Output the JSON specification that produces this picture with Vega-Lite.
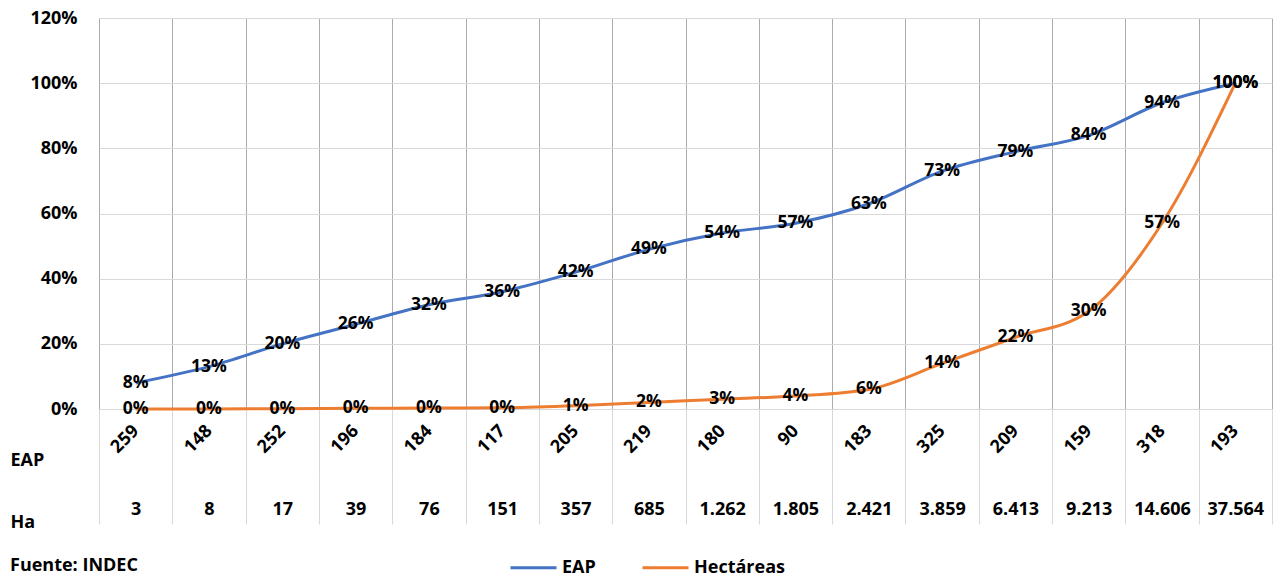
{
  "$schema": "https://vega.github.io/schema/vega-lite/v6.json",
  "autosize": {"type": "none"},
  "width": 1173,
  "height": 391,
  "padding": {"left": 99, "top": 18, "right": 10, "bottom": 169},
  "background": "white",
  "config": {
    "font": "Open Sans",
    "view": {"stroke": null},
    "axis": {
      "labelFont": "Open Sans", "labelFontWeight": "bold", "labelFontSize": 18, "labelColor": "#000",
      "titleFont": "Open Sans", "titleFontWeight": "bold", "titleFontSize": 18, "titleColor": "#000"
    }
  },
  "title": {
    "text": "Fuente: INDEC", "orient": "bottom", "anchor": "start", "frame": "group",
    "dx": -89, "dy": -33, "offset": 13, "font": "Open Sans", "fontSize": 18, "fontWeight": "bold", "color": "#000"
  },
  "data": {
    "values": [
      {"EAP": "259", "Ha": "3", "serie": "EAP", "value": 0.08},
      {"EAP": "148", "Ha": "8", "serie": "EAP", "value": 0.13},
      {"EAP": "252", "Ha": "17", "serie": "EAP", "value": 0.20},
      {"EAP": "196", "Ha": "39", "serie": "EAP", "value": 0.26},
      {"EAP": "184", "Ha": "76", "serie": "EAP", "value": 0.32},
      {"EAP": "117", "Ha": "151", "serie": "EAP", "value": 0.36},
      {"EAP": "205", "Ha": "357", "serie": "EAP", "value": 0.42},
      {"EAP": "219", "Ha": "685", "serie": "EAP", "value": 0.49},
      {"EAP": "180", "Ha": "1.262", "serie": "EAP", "value": 0.54},
      {"EAP": "90", "Ha": "1.805", "serie": "EAP", "value": 0.57},
      {"EAP": "183", "Ha": "2.421", "serie": "EAP", "value": 0.63},
      {"EAP": "325", "Ha": "3.859", "serie": "EAP", "value": 0.73},
      {"EAP": "209", "Ha": "6.413", "serie": "EAP", "value": 0.79},
      {"EAP": "159", "Ha": "9.213", "serie": "EAP", "value": 0.84},
      {"EAP": "318", "Ha": "14.606", "serie": "EAP", "value": 0.94},
      {"EAP": "193", "Ha": "37.564", "serie": "EAP", "value": 1.00},
      {"EAP": "259", "Ha": "3", "serie": "Hectáreas", "value": 0.0},
      {"EAP": "148", "Ha": "8", "serie": "Hectáreas", "value": 0.0},
      {"EAP": "252", "Ha": "17", "serie": "Hectáreas", "value": 0.001},
      {"EAP": "196", "Ha": "39", "serie": "Hectáreas", "value": 0.002},
      {"EAP": "184", "Ha": "76", "serie": "Hectáreas", "value": 0.003},
      {"EAP": "117", "Ha": "151", "serie": "Hectáreas", "value": 0.004},
      {"EAP": "205", "Ha": "357", "serie": "Hectáreas", "value": 0.01},
      {"EAP": "219", "Ha": "685", "serie": "Hectáreas", "value": 0.02},
      {"EAP": "180", "Ha": "1.262", "serie": "Hectáreas", "value": 0.03},
      {"EAP": "90", "Ha": "1.805", "serie": "Hectáreas", "value": 0.04},
      {"EAP": "183", "Ha": "2.421", "serie": "Hectáreas", "value": 0.06},
      {"EAP": "325", "Ha": "3.859", "serie": "Hectáreas", "value": 0.14},
      {"EAP": "209", "Ha": "6.413", "serie": "Hectáreas", "value": 0.22},
      {"EAP": "159", "Ha": "9.213", "serie": "Hectáreas", "value": 0.30},
      {"EAP": "318", "Ha": "14.606", "serie": "Hectáreas", "value": 0.57},
      {"EAP": "193", "Ha": "37.564", "serie": "Hectáreas", "value": 1.00}
    ]
  },
  "layer": [
    {
      "encoding": {
        "x": {
          "field": "EAP", "type": "ordinal", "sort": null,
          "scale": {"type": "band", "paddingInner": 0, "paddingOuter": 0},
          "axis": {
            "orient": "bottom",
            "title": "EAP", "titleAngle": 0, "titleX": -89, "titleY": 51, "titleAlign": "left", "titleBaseline": "middle",
            "labelAngle": -45, "labelAlign": "right", "labelBaseline": "middle", "labelPadding": -46,
            "tickSize": 65, "tickColor": "#D9D9D9", "tickBand": "extent",
            "grid": true, "gridColor": "#ABABAB", "domain": false, "labelOverlap": false
          }
        },
        "y": {
          "field": "value", "type": "quantitative",
          "scale": {"domain": [0, 1.2], "nice": false},
          "axis": {
            "values": [0, 0.2, 0.4, 0.6, 0.8, 1.0, 1.2], "format": ".0%", "grid": true, "gridColor": "#D9D9D9",
            "domain": false, "ticks": false, "labelPadding": 22, "title": null
          }
        }
      },
      "layer": [
        {
          "mark": {"type": "line", "strokeWidth": 3, "interpolate": "monotone"},
          "encoding": {
            "color": {
              "field": "serie", "type": "nominal",
              "scale": {"domain": ["EAP", "Hectáreas"], "range": ["#4472C4", "#ED7D31"]},
              "legend": {
                "orient": "none", "legendX": 410, "legendY": 525, "direction": "horizontal", "title": null,
                "symbolType": "stroke", "symbolSize": 2116, "symbolStrokeWidth": 3,
                "labelFont": "Open Sans", "labelFontSize": 18, "labelFontWeight": "bold", "labelColor": "#000",
                "columnPadding": 40, "padding": 0
              }
            }
          }
        },
        {
          "mark": {"type": "text", "font": "Open Sans", "fontSize": 17.5, "fontWeight": "bold", "color": "#000", "baseline": "middle"},
          "encoding": {
            "text": {"field": "value", "type": "quantitative", "format": ".0%"}
          }
        }
      ]
    },
    {
      "mark": {"type": "point", "opacity": 0},
      "encoding": {
        "x": {
          "field": "Ha", "type": "ordinal", "sort": null,
          "scale": {"type": "band", "paddingInner": 0, "paddingOuter": 0},
          "axis": {
            "orient": "bottom",
            "title": "Ha", "titleAngle": 0, "titleX": -89, "titleY": 48, "titleAlign": "left", "titleBaseline": "middle",
            "offset": 65, "domain": false, "tickSize": 50, "tickColor": "#D9D9D9", "tickBand": "extent",
            "labelAngle": 0, "labelAlign": "center", "labelBaseline": "middle", "labelPadding": -15,
            "grid": false, "labelOverlap": false
          }
        }
      }
    }
  ],
  "resolve": {"scale": {"x": "independent"}, "axis": {"x": "independent"}}
}
